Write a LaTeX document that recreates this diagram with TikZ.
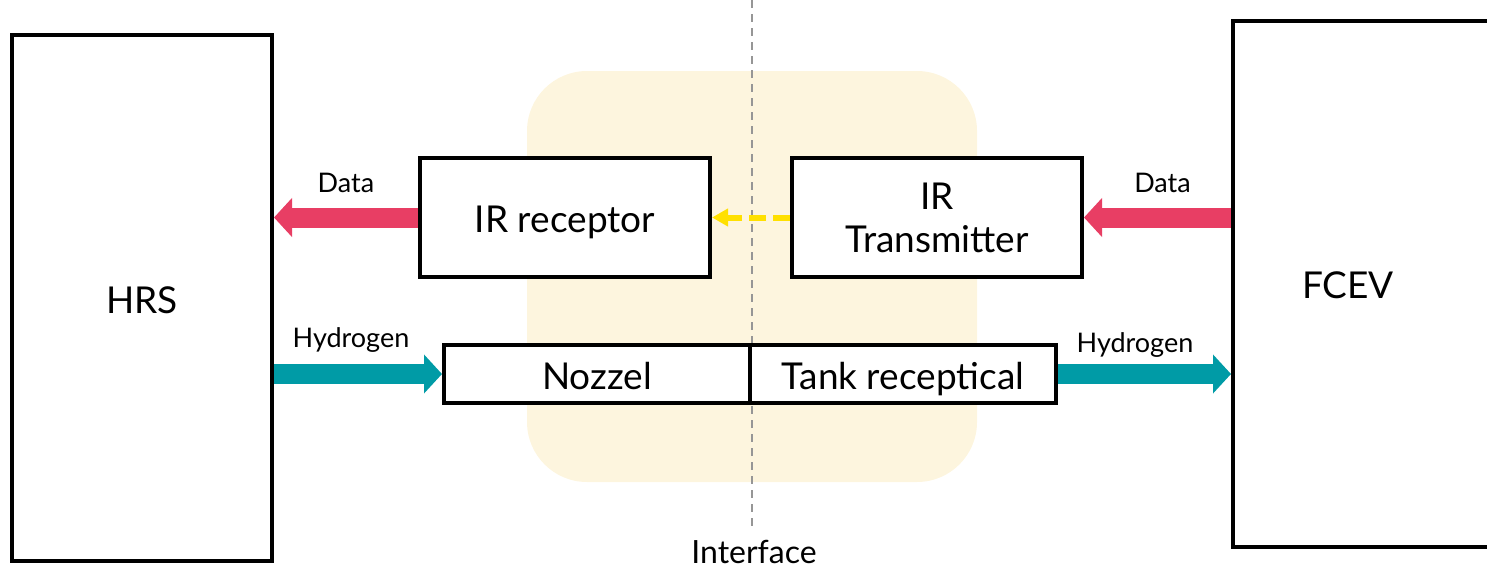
\documentclass[tikz,border=0pt]{standalone}
\usepackage{fontspec}
\setmainfont{Lato}
\usetikzlibrary{arrows.meta}
\definecolor{zoneCream}{RGB}{253,245,222}
\definecolor{guideGray}{RGB}{150,150,150}
\definecolor{dataPink}{RGB}{232,62,100}
\definecolor{hydroTeal}{RGB}{0,155,166}
\definecolor{irYellow}{RGB}{255,224,0}

\begin{document}
\begin{tikzpicture}[x=0.5pt,y=-0.5pt,
    bigText/.style={font=\fontsize{18.5}{21.6}\selectfont},
    blockBox/.style={draw=black,fill=white,line width=2pt,inner sep=0pt,align=center,bigText},
    oneLine/.style={text height=15pt,text depth=0pt},
    flowArrow/.style={line width=10pt,-{Triangle[length=9pt,width=19pt]}},
    flowLabel/.style={font=\fontsize{13.5}{16}\selectfont,anchor=base,inner sep=0pt}]
  \useasboundingbox (0,0) rectangle (1487,568);
  \clip (0,0) rectangle (1487,568);
  % interface zone and its guide line
  \fill[zoneCream,rounded corners=30pt] (527,71) rectangle (977,482);
  \coordinate (ifaceTop) at (752,0);
  \node[font=\fontsize{16}{18}\selectfont,anchor=base,inner sep=1pt] (iface) at (754,563) {Interface};
  \draw[guideGray,line width=1pt,dash pattern=on 4pt off 3pt,shorten >=4pt] (ifaceTop) -- (ifaceTop |- iface.north);
  % blocks
  \node[blockBox,oneLine,minimum width=130pt,minimum height=263pt] (hrs) at (142,298) {HRS};
  \node[blockBox,minimum width=143.5pt,minimum height=263pt,
        label={[bigText,oneLine,xshift=-14.25pt,yshift=0.5pt]center:FCEV}] (fcev) at (1376.5,284) {};
  \node[blockBox,oneLine,minimum width=145pt,minimum height=59.5pt] (irrec) at (565,217.5) {IR receptor};
  \node[blockBox,minimum width=145pt,minimum height=59.5pt] (irtx) at (937,217.5) {IR\\Transmitter};
  \node[blockBox,oneLine,minimum width=153pt,minimum height=29pt] (nozzel) at (597,374) {Nozzel};
  \node[blockBox,oneLine,minimum width=153pt,minimum height=29pt] (tank) at (903,374) {Tank receptical};
  % flows
  \draw[flowArrow,dataPink] (irrec.west) -- (irrec.west -| hrs.east)
    node[flowLabel,midway,yshift=12.75pt,text=black] {Data};
  \draw[flowArrow,dataPink] (fcev.west |- irtx.east) -- (irtx.east)
    node[flowLabel,midway,xshift=2.5pt,yshift=12.75pt,text=black] {Data};
  \draw[flowArrow,hydroTeal] (hrs.east |- nozzel.west) -- (nozzel.west)
    node[flowLabel,midway,xshift=-3.5pt,yshift=13.5pt,text=black] {Hydrogen};
  \draw[flowArrow,hydroTeal] (tank.east) -- (tank.east -| fcev.west)
    node[flowLabel,midway,xshift=-4.75pt,yshift=11pt,text=black] {Hydrogen};
  \draw[irYellow,line width=3pt,dash pattern=on 8.5pt off 3.5pt,
        -{Triangle[length=8pt,width=8.5pt]}] (irtx.west) -- (irrec.east);
\end{tikzpicture}
\end{document}
